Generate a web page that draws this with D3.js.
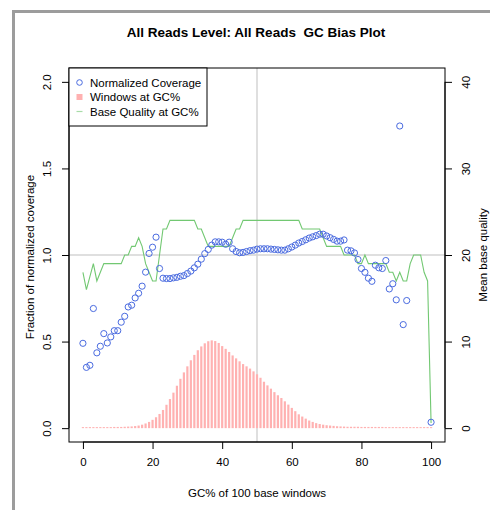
<!DOCTYPE html>
<html>
<head>
<meta charset="utf-8">
<script src="https://cdn.jsdelivr.net/npm/d3@7"></script>
<style>
  body { margin: 0; background: #fff; }
  svg text { font-family: "Liberation Sans", Arial, Helvetica, sans-serif; }
</style>
</head>
<body>
<div id="chart"></div>
<script>
// GC percent of each 100 base window
var gcPct = d3.range(0, 101);

// normalized coverage (null = no point drawn)
var coverage = [
  0.49, 0.351, 0.363, 0.691, 0.435, 0.473, 0.546, 0.492, 0.527, 0.563,
  0.563, 0.612, 0.646, 0.700, 0.710, 0.752, 0.779, 0.820, 0.901, 1.009,
  1.045, 1.103, 0.922, 0.866, 0.864, 0.864, 0.868, 0.871, 0.877, 0.881,
  0.893, 0.907, 0.926, 0.947, 0.976, 1.008, 1.032, 1.057, 1.076, 1.076,
  1.074, 1.062, 1.074, 1.036, 1.020, 1.013, 1.015, 1.020, 1.025, 1.028,
  1.034, 1.036, 1.036, 1.036, 1.034, 1.032, 1.030, 1.028, 1.028, 1.036,
  1.046, 1.057, 1.069, 1.078, 1.088, 1.098, 1.105, 1.112, 1.120, 1.120,
  1.110, 1.100, 1.090, 1.080, 1.080, 1.087, 1.028, 1.024, 1.012, 0.974,
  0.922, 0.900, 0.866, 0.848, 0.941, 0.926, 0.922, 0.968, 0.804, 0.834,
  0.741, 1.745, 0.598, 0.737, null, null, null, null, null, null,
  0.034
];

// windows at GC% (scaled to the left axis)
var windows = [
  0.006, 0.006, 0.006, 0.006, 0.006, 0.006, 0.006, 0.006, 0.006, 0.007,
  0.007, 0.007, 0.008, 0.009, 0.010, 0.012, 0.015, 0.020, 0.027, 0.036,
  0.048, 0.063, 0.082, 0.105, 0.135, 0.168, 0.205, 0.245, 0.285, 0.322,
  0.357, 0.392, 0.423, 0.450, 0.472, 0.490, 0.502, 0.507, 0.503, 0.492,
  0.474, 0.458, 0.440, 0.420, 0.403, 0.386, 0.370, 0.357, 0.344, 0.328,
  0.311, 0.291, 0.268, 0.247, 0.228, 0.208, 0.190, 0.174, 0.155, 0.136,
  0.117, 0.098, 0.080, 0.067, 0.055, 0.044, 0.036, 0.029, 0.024, 0.020,
  0.017, 0.015, 0.013, 0.011, 0.010, 0.009, 0.008, 0.008, 0.008, 0.008,
  0.007, 0.007, 0.007, 0.007, 0.007, 0.007, 0.007, 0.006, 0.006, 0.006,
  0.006, 0.006, 0.006, 0.006, 0.006, 0.006, 0.006, 0.006, 0.006, 0.006,
  0.006
];

// mean base quality at GC% (right axis)
var quality = [
  18, 16, 17.5, 19, 17, 18, 19, 19, 19, 19,
  19, 19, 20, 20, 21, 21, 22, 21, 19, 18,
  17, 17, 20, 23, 23, 24, 24, 24, 24, 24,
  24, 24, 24, 23, 23, 22, 21, 21, 21, 21,
  21, 21, 21, 22, 23, 23, 24, 24, 24, 24,
  24, 24, 24, 24, 24, 24, 24, 24, 24, 24,
  24, 24, 24, 23, 23, 23, 23, 23, 23, 22,
  21, 21, 21, 21, 21, 20, 20, 20, 20, 19,
  19, 20, 19, 19, 19, 19, 19, 19, 18, 18,
  17, 18, 17, 17, 19, 20, 20, 20, 18, 17,
  0.6
];

var xTicks = [0, 20, 40, 60, 80, 100];
var yTicks = [0, 0.5, 1, 1.5, 2];
var qTicks = [0, 10, 20, 30, 40];
var legendLabels = ["Normalized Coverage", "Windows at GC%", "Base Quality at GC%"];

var W = 490, H = 510;
var box = {left: 69, right: 445, top: 68, bottom: 442};

var svg = d3.select("#chart").append("svg")
  .attr("width", W).attr("height", H);

// outer frame
svg.append("rect")
  .attr("x", 13.5).attr("y", 11.5)
  .attr("width", 600).attr("height", 600)
  .attr("fill", "none").attr("stroke", "#9c9c9c").attr("stroke-width", 3);

var x = d3.scaleLinear().domain([-4, 104]).range([box.left, box.right]);
var y = d3.scaleLinear().domain([-0.08, 2.08]).range([box.bottom, box.top]);
var yq = d3.scaleLinear().domain([-1.6, 41.6]).range([box.bottom, box.top]);

// reference lines
svg.append("line")
  .attr("x1", x(50)).attr("x2", x(50))
  .attr("y1", box.top).attr("y2", box.bottom)
  .attr("stroke", "#d4d4d4").attr("stroke-width", 1.5);
svg.append("line")
  .attr("x1", box.left).attr("x2", box.right)
  .attr("y1", y(1)).attr("y2", y(1))
  .attr("stroke", "#d4d4d4").attr("stroke-width", 1.5);

// windows bars
svg.selectAll(".bar")
  .data(gcPct)
  .enter().append("line")
    .attr("class", "bar")
    .attr("x1", function(d) { return x(d); })
    .attr("x2", function(d) { return x(d); })
    .attr("y1", y(0))
    .attr("y2", function(d, i) { return y(windows[i]); })
    .attr("stroke", "#ffb1b1").attr("stroke-width", 2.2);

// base quality line
var qline = d3.line()
  .x(function(d) { return x(d); })
  .y(function(d, i) { return yq(quality[i]); });
svg.append("path")
  .datum(gcPct)
  .attr("d", qline)
  .attr("fill", "none")
  .attr("stroke", "#72c872").attr("stroke-width", 1.1);

// coverage points
svg.selectAll(".pt")
  .data(gcPct.filter(function(d, i) { return coverage[i] != null; }))
  .enter().append("circle")
    .attr("class", "pt")
    .attr("cx", function(d) { return x(d); })
    .attr("cy", function(d) { return y(coverage[d]); })
    .attr("r", 3.1)
    .attr("fill", "none")
    .attr("stroke", "#4a6be0").attr("stroke-width", 1);

// plot box
svg.append("rect")
  .attr("x", box.left).attr("y", box.top)
  .attr("width", box.right - box.left).attr("height", box.bottom - box.top)
  .attr("fill", "none").attr("stroke", "#000").attr("stroke-width", 1);

// bottom axis
var xAxis = svg.append("g")
  .attr("transform", "translate(0," + box.bottom + ")")
  .call(d3.axisBottom(x).tickValues(xTicks).tickSize(7).tickPadding(9));
xAxis.select(".domain").attr("d", "M" + x(0) + ",0H" + x(100));

// left axis
var yAxis = svg.append("g")
  .attr("transform", "translate(" + box.left + ",0)")
  .call(d3.axisLeft(y).tickValues(yTicks).tickSize(7).tickFormat(d3.format(".1f")));
yAxis.select(".domain").attr("d", "M0," + y(0) + "V" + y(2));
yAxis.selectAll("text")
  .attr("x", null).attr("dy", null)
  .attr("transform", "translate(-18,0) rotate(-90)")
  .attr("text-anchor", "middle");

// right axis
var qAxis = svg.append("g")
  .attr("transform", "translate(" + box.right + ",0)")
  .call(d3.axisRight(yq).tickValues(qTicks).tickSize(7));
qAxis.select(".domain").attr("d", "M0," + yq(0) + "V" + yq(40));
qAxis.selectAll("text")
  .attr("x", null).attr("dy", null)
  .attr("transform", "translate(25,0) rotate(-90)")
  .attr("text-anchor", "middle");

svg.selectAll(".tick text").attr("font-size", "11.5px").attr("fill", "#000")
  .attr("font-family", "Liberation Sans, Arial, sans-serif");
svg.selectAll(".tick line").attr("stroke", "#000");
svg.selectAll(".domain").attr("stroke", "#000");

// titles
svg.append("text")
  .attr("x", 256).attr("y", 36.5)
  .attr("text-anchor", "middle")
  .attr("font-size", "13.5px").attr("font-weight", "bold")
  .style("white-space", "pre")
  .text("All Reads Level: All Reads  GC Bias Plot");

svg.append("text")
  .attr("x", 257).attr("y", 497)
  .attr("text-anchor", "middle").attr("font-size", "11.5px")
  .text("GC% of 100 base windows");

svg.append("text")
  .attr("transform", "translate(34,257) rotate(-90)")
  .attr("text-anchor", "middle").attr("font-size", "11.5px")
  .text("Fraction of normalized coverage");

svg.append("text")
  .attr("transform", "translate(486.5,255) rotate(-90)")
  .attr("text-anchor", "middle").attr("font-size", "11.5px")
  .text("Mean base quality");

// legend
var lg = svg.append("g");
lg.append("rect")
  .attr("x", box.left).attr("y", box.top)
  .attr("width", 138).attr("height", 58)
  .attr("fill", "#fff").attr("stroke", "#000").attr("stroke-width", 1);
var rowY = [82.5, 97, 111.5];
lg.append("circle")
  .attr("cx", 79.5).attr("cy", rowY[0]).attr("r", 2.8)
  .attr("fill", "none").attr("stroke", "#4a6be0").attr("stroke-width", 1);
lg.append("rect")
  .attr("x", 76.5).attr("y", rowY[1] - 3).attr("width", 6).attr("height", 6)
  .attr("fill", "#ffb1b1");
lg.append("line")
  .attr("x1", 76.5).attr("x2", 82.5)
  .attr("y1", rowY[2]).attr("y2", rowY[2])
  .attr("stroke", "#a8dca8").attr("stroke-width", 1.2);
lg.selectAll(".lt")
  .data(legendLabels)
  .enter().append("text")
    .attr("x", 90)
    .attr("y", function(d, i) { return rowY[i] + 4.2; })
    .attr("font-size", "11.5px")
    .text(function(d) { return d; });
</script>
</body>
</html>
